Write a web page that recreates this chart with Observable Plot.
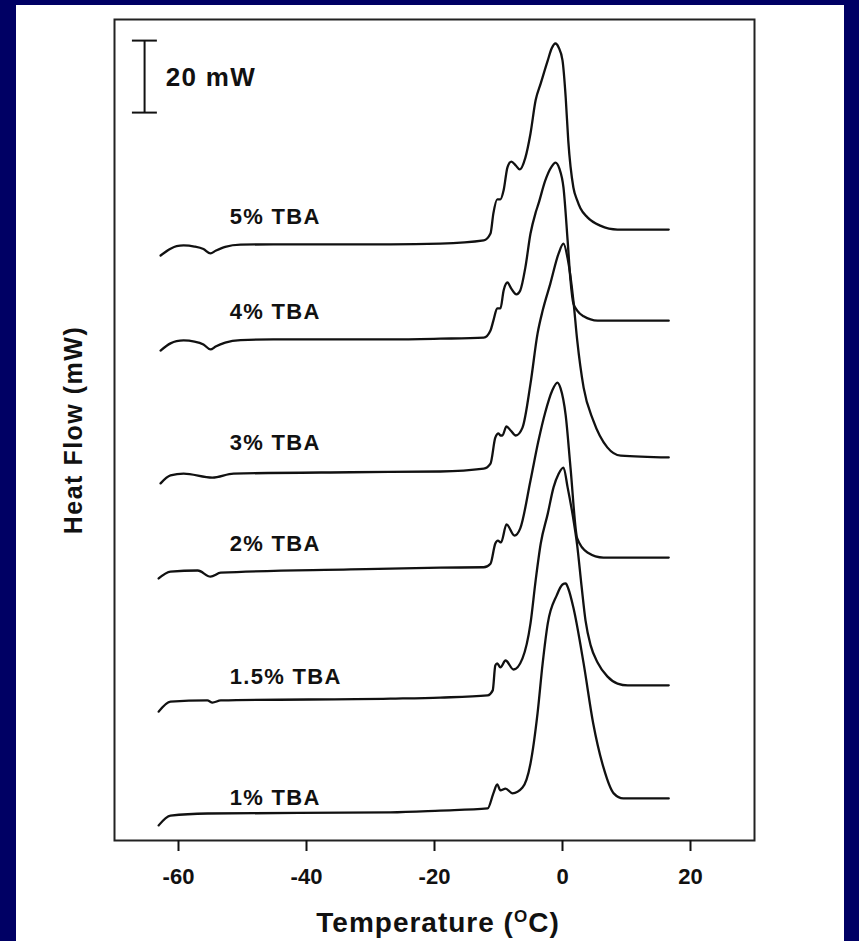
<!DOCTYPE html>
<html>
<head>
<meta charset="utf-8">
<script src="https://cdn.jsdelivr.net/npm/d3@7"></script>
<script src="https://cdn.jsdelivr.net/npm/@observablehq/plot@0.6"></script>
<style>
  html, body { margin: 0; padding: 0; background: #000064; width: 859px; height: 941px; overflow: hidden; }
  #panel { position: absolute; left: 16px; top: 5px; width: 828px; height: 936px; background: #fff; }
</style>
</head>
<body>
<div id="panel"></div>
<script>
// ---- data: DSC heat-flow traces (stacked, mW) vs temperature (°C) ----
const seriesNames = ["5% TBA", "4% TBA", "3% TBA", "2% TBA", "1.5% TBA", "1% TBA"];

const tba5 = [[-62.8,162.5],[-61.25,164.4],[-60.3,165.1],[-59.2,165.3],[-57.5,165.0],[-56.1,164.3],[-55.0,163.1],[-54.2,163.8],[-52.7,164.9],[-50.3,165.5],[-45.2,165.6],[-26.9,165.6],[-19.1,165.8],[-12.3,166.7],[-11.25,168.6],[-10.8,174.2],[-10.2,178.1],[-9.7,178.1],[-9.2,180.6],[-8.6,187.0],[-8.0,188.6],[-7.3,187.5],[-6.7,186.4],[-5.8,189.7],[-5.0,196.4],[-4.2,205.6],[-3.4,210.3],[-2.3,216.7],[-1.7,220.0],[-1.1,221.4],[-0.6,220.3],[0,216.7],[0.5,206.4],[0.9,194.4],[1.7,181.4],[2.3,177.8],[2.8,175.6],[3.9,173.1],[5.9,170.8],[8.6,169.7],[16.6,169.7]];

const tba4 = [[-62.8,136.1],[-61.25,138.1],[-60.3,138.7],[-59.2,138.9],[-57.5,138.6],[-56.1,137.8],[-55.0,136.4],[-54.2,137.2],[-52.7,138.3],[-50.3,139.0],[-45.2,139.2],[-26.9,139.2],[-19.1,139.4],[-12.3,139.7],[-11.25,141.7],[-10.8,144.4],[-10.2,147.8],[-9.7,147.8],[-9.2,152.8],[-8.6,155.0],[-8.0,153.3],[-7.2,151.7],[-6.6,152.8],[-5.8,159.2],[-5.0,168.6],[-4.2,174.4],[-3.75,176.9],[-2.7,183.3],[-1.7,187.2],[-1.1,188.3],[-0.5,186.7],[0.15,181.4],[0.8,166.7],[1.25,155.6],[1.7,149.2],[2.3,147.2],[3.3,145.6],[5.5,144.4],[16.6,144.4]];

const tba3 = [[-62.8,99.2],[-61.25,101.4],[-59.2,101.9],[-54.7,100.8],[-51.4,101.9],[-33.1,102.3],[-19.1,102.5],[-12.3,103.3],[-11.25,104.7],[-10.5,111.9],[-10.0,113.1],[-9.7,112.5],[-9.4,112.5],[-8.75,115.0],[-8.1,113.9],[-7.3,112.5],[-6.25,114.7],[-5.0,126.9],[-3.9,140.8],[-3.1,147.2],[-1.9,154.7],[-0.6,163.1],[0.15,165.8],[0.8,161.7],[1.7,150.0],[2.3,138.9],[3.3,125.8],[4.8,116.7],[7.0,109.2],[9.1,106.9],[16.6,106.4]];

const tba2 = [[-63.1,72.8],[-61.25,74.7],[-57.0,75.0],[-55.0,73.3],[-53.4,74.4],[-33.1,75.3],[-19.1,75.8],[-12.3,75.9],[-11.25,76.9],[-10.5,82.5],[-10.1,83.3],[-9.6,82.8],[-8.75,87.8],[-7.5,84.7],[-6.6,86.7],[-5.0,100.0],[-3.75,111.1],[-2.7,118.9],[-1.6,125.0],[-0.8,127.2],[-0.3,125.6],[0.5,118.1],[1.25,103.6],[2.3,83.9],[3.9,80.0],[6.4,78.6],[16.6,78.6]];

const tba15 = [[-63.1,35.8],[-61.25,38.6],[-55.5,38.9],[-54.7,38.3],[-53.4,38.9],[-26.9,39.4],[-19.1,39.7],[-11.7,40.3],[-10.9,41.7],[-10.5,48.6],[-10.2,49.2],[-9.7,48.1],[-8.9,50.0],[-7.65,47.5],[-6.25,50.6],[-5.0,60.3],[-4.2,72.2],[-3.4,82.5],[-2.3,90.8],[-1.4,98.1],[-0.6,101.9],[0.15,103.6],[0.8,98.1],[1.6,90.3],[2.3,81.9],[2.97,70.8],[3.6,61.1],[4.4,54.2],[5.5,49.4],[7.0,45.6],[8.6,43.6],[10.2,43.1],[16.6,43.1]];

const tba1 = [[-63.1,4.2],[-61.25,6.9],[-55.5,7.5],[-26.9,7.8],[-19.1,8.3],[-11.7,8.9],[-10.8,13.1],[-10.2,15.6],[-9.7,13.9],[-8.9,14.4],[-7.8,13.1],[-6.25,14.7],[-5.0,21.4],[-3.9,35.3],[-3.1,49.2],[-2.3,60.3],[-0.9,68.1],[0,71.1],[0.5,71.4],[0.9,70.0],[1.7,64.7],[3.3,49.2],[4.8,32.5],[6.4,20.3],[8.0,13.1],[9.5,11.7],[16.6,11.7]];

const seriesData = [tba5, tba4, tba3, tba2, tba15, tba1];
const labelTemp = -52.0;
const labelFlow = [173.3, 146.9, 110.3, 82.5, 45.3, 11.7];

const xTicks = [-60, -40, -20, 0, 20];
const xDomain = [-70, 30];
const yDomain = [0, 228.06];
const scaleBar = 20; // mW

// ---- build tables ----
const rows = seriesData.flatMap((pts, i) => pts.map(([T, v]) => ({series: seriesNames[i], T, v})));
const labelRows = seriesNames.map((s, i) => ({label: s, T: labelTemp, v: labelFlow[i]}));

const barX = -65.3, barTop = 222.2, barBottom = barTop - scaleBar;

const plot = Plot.plot({
  width: 828,
  height: 936,
  marginLeft: 98,
  marginRight: 90,
  marginTop: 14,
  marginBottom: 101,
  style: {background: "white", fontFamily: "'Liberation Sans', Arial, sans-serif", color: "#111", overflow: "visible"},
  x: {domain: xDomain},
  y: {domain: yDomain, axis: null},
  marks: [
    Plot.frame({stroke: "#222", strokeWidth: 2}),
    Plot.axisX({ticks: xTicks, tickFormat: d => String(d), tickSize: 11, tickPadding: 17, strokeWidth: 2, fontSize: 22, fontWeight: "bold", label: null}),
    Plot.line(rows, {x: "T", y: "v", z: "series", stroke: "#111", strokeWidth: 2.3, curve: "monotone-x"}),
    Plot.text(labelRows, {x: "T", y: "v", text: "label", textAnchor: "start", fontSize: 22, fontWeight: "bold", fill: "#111"}),
    Plot.ruleX([barX], {y1: barBottom, y2: barTop, stroke: "#111", strokeWidth: 2}),
    Plot.ruleY([barBottom, barTop], {x1: -67.2, x2: -63.3, stroke: "#111", strokeWidth: 2}),
    Plot.text([`${scaleBar} mW`], {x: -62.0, y: 211.9, textAnchor: "start", fontSize: 26, fontWeight: "bold", fill: "#111"})
  ]
});

const svg = d3.select(plot);
// slightly widen the label lettering like the original figure
svg.selectAll('g[aria-label="text"] text').style("letter-spacing", "1.3px");

// axis titles
const xt = svg.append("text")
  .attr("x", 422).attr("y", 927)
  .attr("text-anchor", "middle")
  .style("font-size", "28px").style("font-weight", "bold").style("letter-spacing", "1px")
  .attr("fill", "#111");
xt.append("tspan").text("Temperature (");
xt.append("tspan").attr("dy", -10).style("font-size", "17px").text("O");
xt.append("tspan").attr("dy", 10).text("C)");

svg.append("text")
  .attr("transform", "translate(66,425) rotate(-90)")
  .attr("text-anchor", "middle")
  .style("font-size", "25px").style("font-weight", "bold").style("letter-spacing", "1.5px")
  .attr("fill", "#111")
  .text("Heat Flow (mW)");

document.getElementById("panel").appendChild(plot);
</script>
</body>
</html>
